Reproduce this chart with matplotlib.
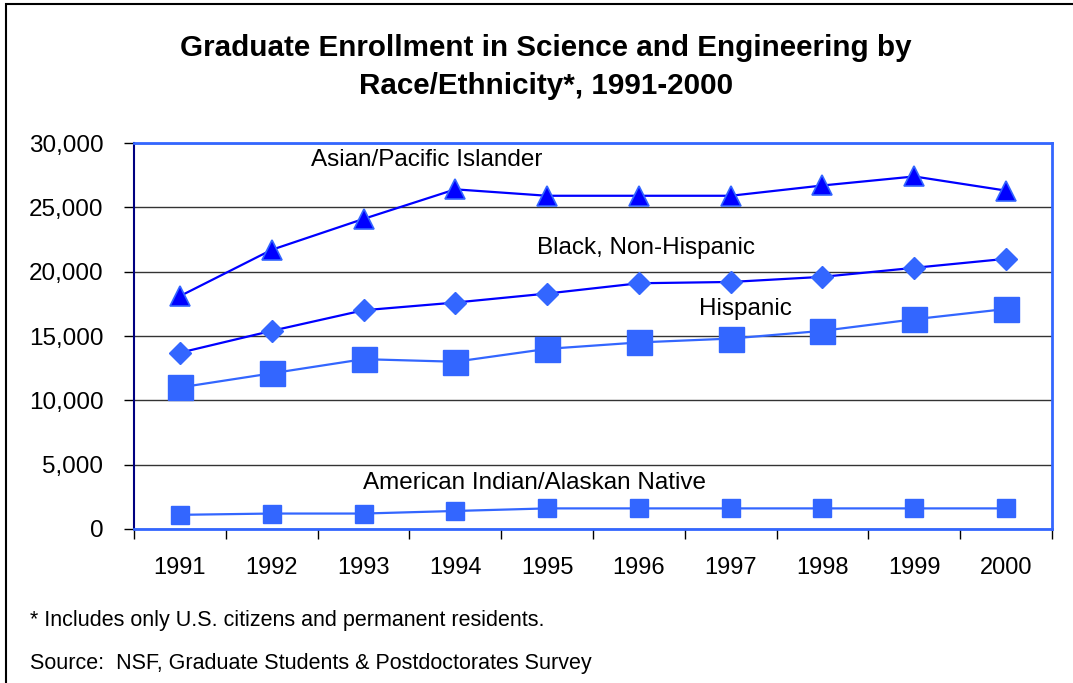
import numpy as np
import matplotlib.pyplot as plt
from matplotlib.ticker import FuncFormatter

plt.rcParams['font.family'] = ['Liberation Sans', 'DejaVu Sans']

years = ['1991', '1992', '1993', '1994', '1995', '1996', '1997', '1998', '1999', '2000']
asian = [18100, 21700, 24100, 26400, 25900, 25900, 25900, 26700, 27400, 26300]
black = [13700, 15400, 17000, 17600, 18300, 19100, 19200, 19600, 20300, 21000]
hispanic = [11000, 12100, 13200, 13000, 14000, 14500, 14800, 15400, 16300, 17100]
amer_indian = [1100, 1200, 1200, 1400, 1600, 1600, 1600, 1600, 1600, 1600]


def plot_enrollment():
  fig = plt.figure(figsize=(10.73, 6.83), dpi=100)
  ax = fig.add_axes([0.1249, 0.2255, 0.8555, 0.5651])
  x = np.arange(1, len(years) + 1)

  ax.plot(x, asian, '-^', c='#0000FF', lw=1.6, ms=15, mfc='#0000FF', mec='#3366FF', mew=1.2, zorder=4)
  ax.plot(x, black, '-D', c='#0000FF', lw=1.6, ms=11, mfc='#3366FF', mec='#3366FF', zorder=4)
  ax.plot(x, hispanic, '-s', c='#3366FF', lw=1.6, ms=18, mfc='#3366FF', mec='#3366FF', zorder=4)
  ax.plot(x, amer_indian, '-s', c='#3366FF', lw=1.6, ms=13, mfc='#3366FF', mec='#3366FF', zorder=4)

  ax.text(3.69, 28670, 'Asian/Pacific Islander', ha='center', va='center', fontsize=17.5)
  ax.text(6.08, 21830, 'Black, Non-Hispanic', ha='center', va='center', fontsize=17.5)
  ax.text(7.16, 17100, 'Hispanic', ha='center', va='center', fontsize=17.5)
  ax.text(4.86, 3570, 'American Indian/Alaskan Native', ha='center', va='center', fontsize=17.5)

  ax.set_xlim(0.5, 10.5)
  ax.set_ylim(0, 30000)
  ax.set_yticks(np.arange(0, 30001, 5000))
  ax.yaxis.set_major_formatter(FuncFormatter(lambda v, p: '{:,.0f}'.format(v)))
  ax.set_xticks(np.arange(0.5, 10.6, 1))
  ax.set_xticklabels([])
  ax.set_xticks(x, minor=True)
  ax.set_xticklabels(years, minor=True)
  ax.tick_params(axis='x', which='minor', length=0, pad=20, labelsize=17)
  ax.tick_params(axis='x', which='major', length=7, width=1, direction='out')
  ax.tick_params(axis='y', length=7, width=1, pad=15, labelsize=17.5)
  ax.grid(axis='y', color='#333333', lw=1)
  ax.set_axisbelow(True)

  ax.spines['left'].set_color('#000080')
  ax.spines['left'].set_linewidth(1.5)
  for s in ['top', 'right', 'bottom']:
    ax.spines[s].set_color('#3366FF')
    ax.spines[s].set_linewidth(2)

  fig.text(0.509, 0.902, 'Graduate Enrollment in Science and Engineering by\nRace/Ethnicity*, 1991-2000',
           ha='center', va='center', fontsize=21.3, fontweight='bold', linespacing=1.45)
  fig.text(0.028, 0.092, '* Includes only U.S. citizens and permanent residents.', fontsize=15.5, va='center')
  fig.text(0.028, 0.029, 'Source:  NSF, Graduate Students & Postdoctorates Survey', fontsize=15.5, va='center')

  # outer frame
  frame = plt.Rectangle((0.0056, -0.05), 1.1, 1.044, transform=fig.transFigure,
                        fill=False, ec='black', lw=1.5)
  fig.patches.append(frame)

  fig.savefig('out.png', dpi=100)


if __name__ == "__main__":
  plot_enrollment()
